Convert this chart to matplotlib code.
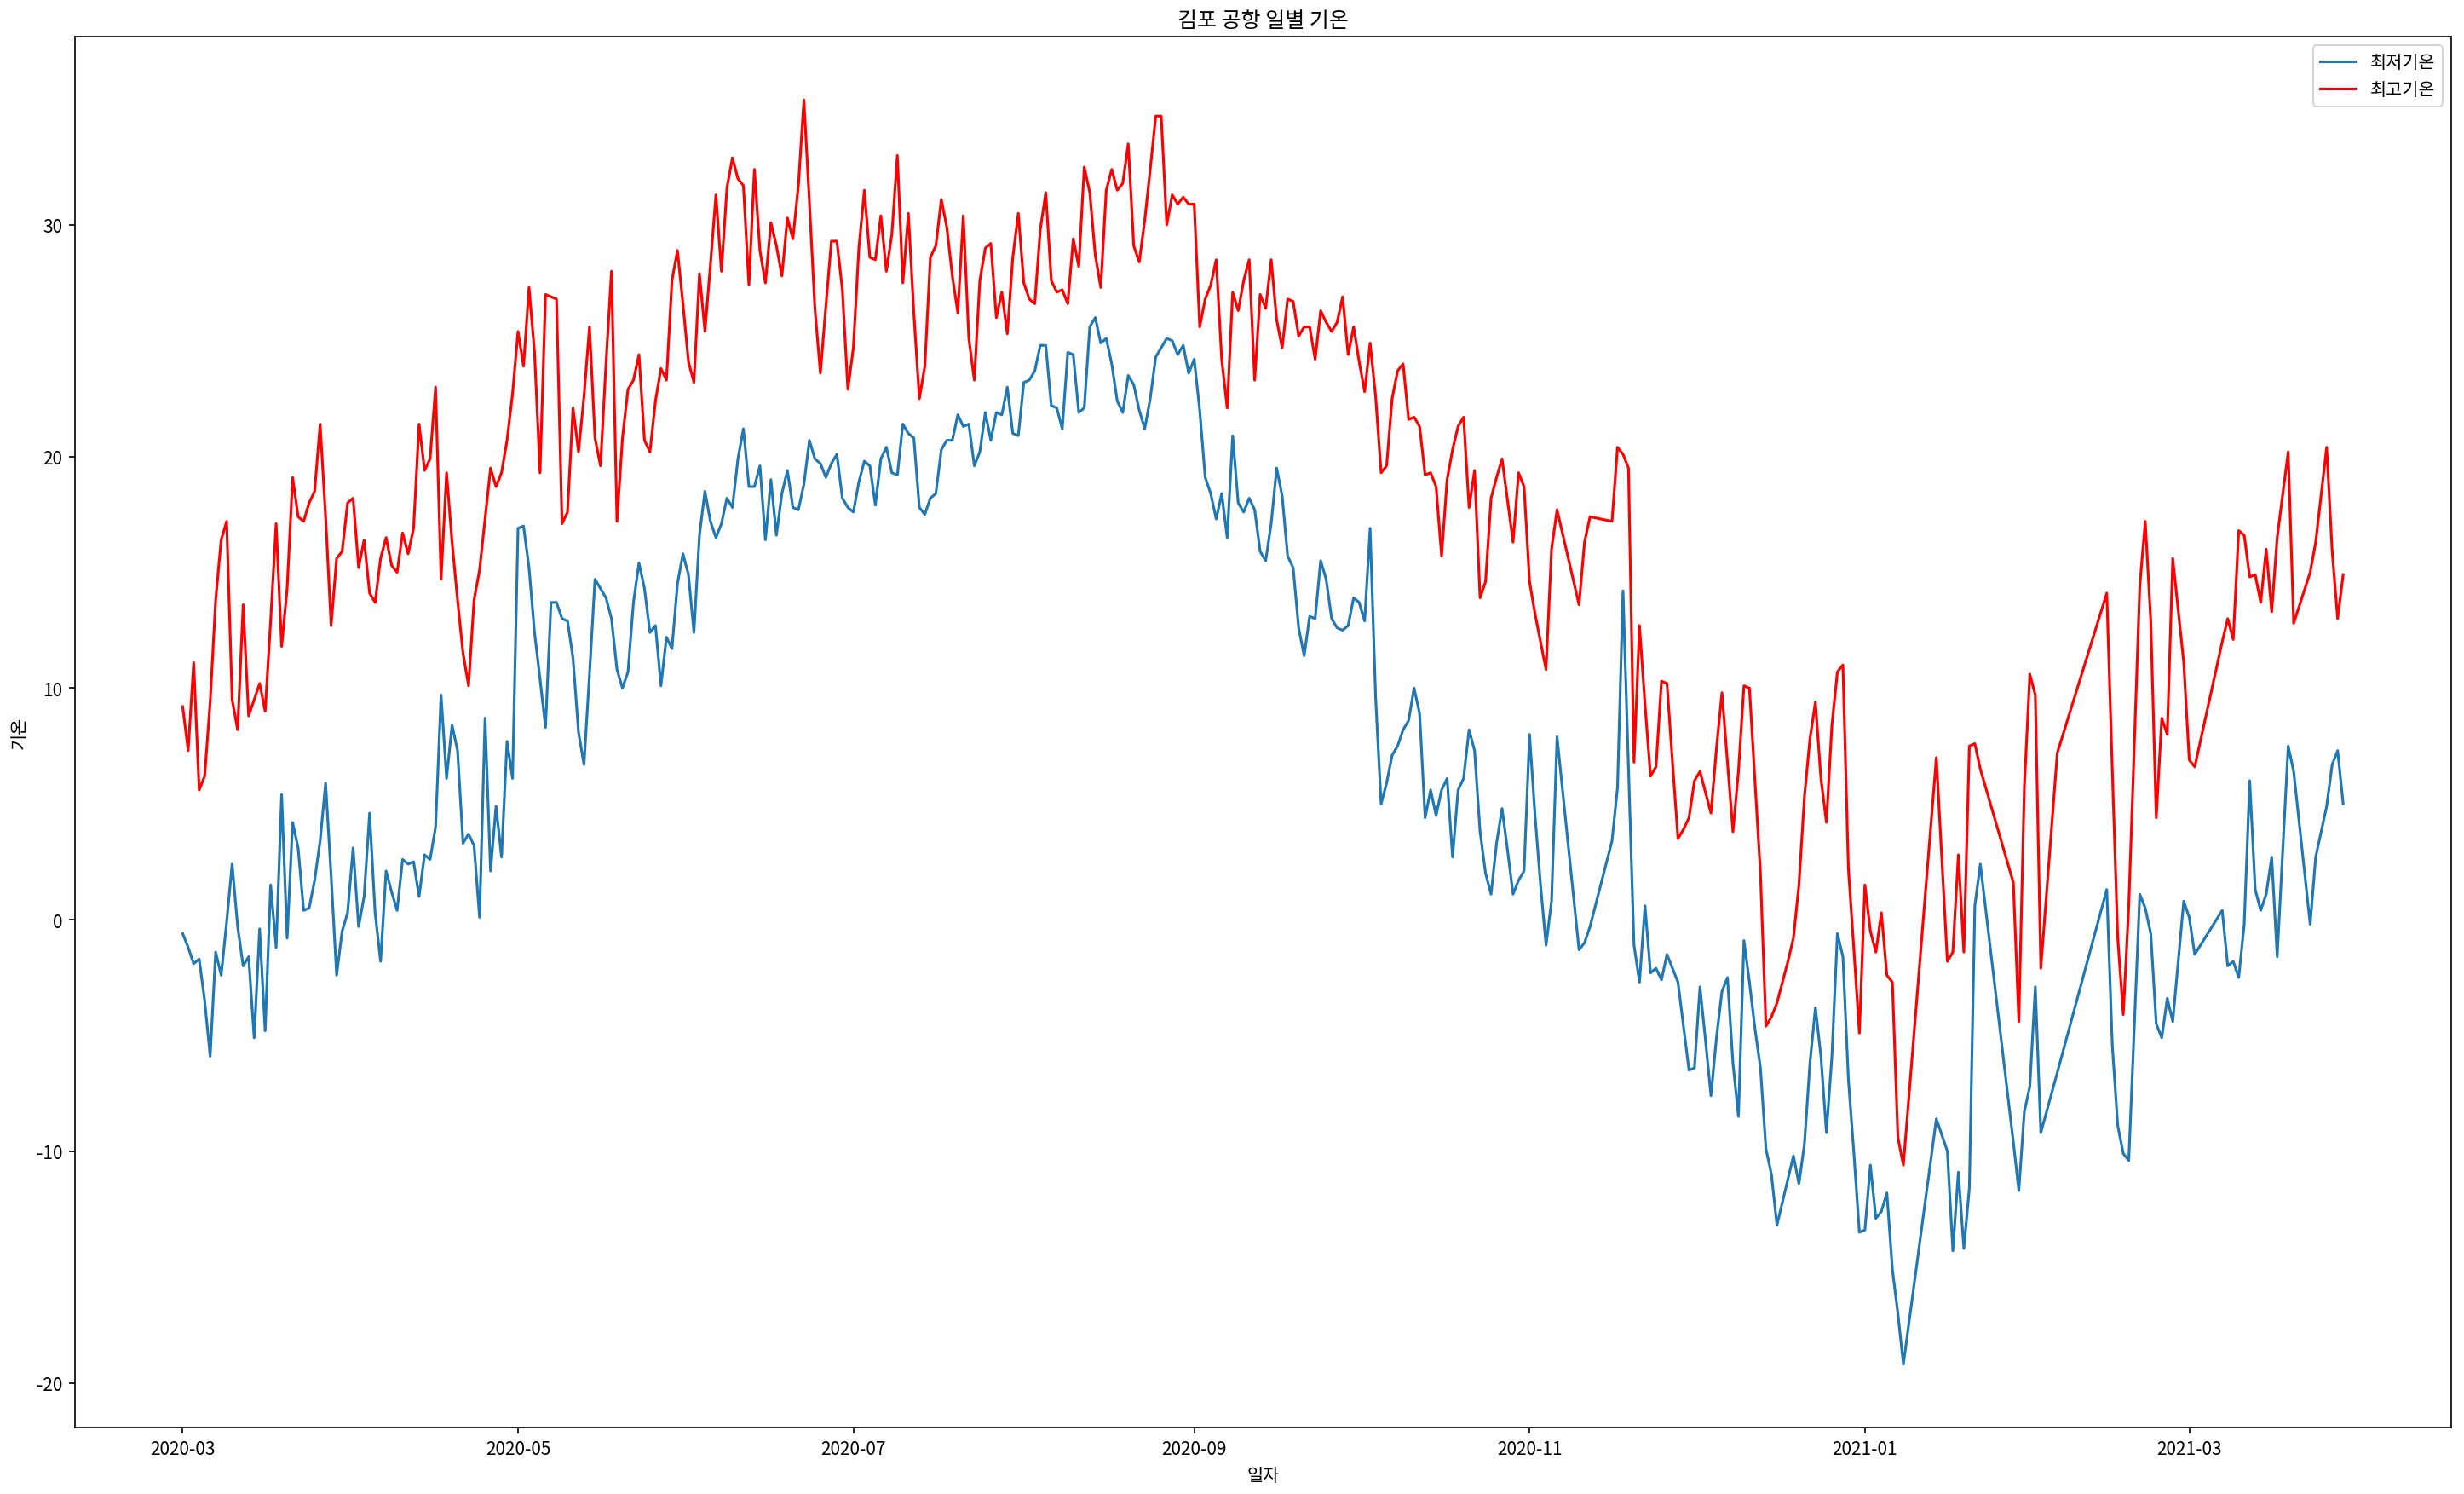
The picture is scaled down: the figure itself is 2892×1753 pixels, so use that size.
import matplotlib
matplotlib.use("Agg")
import matplotlib.pyplot as plt
import pandas as pd

# observed days (missing days show up as straight segments)
obs_periods = [
    ("2020-03-01", "2020-11-06"),
    ("2020-11-10", "2020-11-12"),
    ("2020-11-16", "2021-01-08"),
    ("2021-01-14", "2021-01-22"),
    ("2021-01-28", "2021-02-02"),
    ("2021-02-05", "2021-02-05"),
    ("2021-02-14", "2021-02-18"),
    ("2021-02-20", "2021-02-26"),
    ("2021-02-28", "2021-03-02"),
    ("2021-03-07", "2021-03-17"),
    ("2021-03-19", "2021-03-20"),
    ("2021-03-23", "2021-03-24"),
    ("2021-03-26", "2021-03-29"),
]

# 최저기온
tmin = [
    -0.6, -1.2, -1.9, -1.7, -3.5, -5.9, -1.4, -2.4, -0.1, 2.4,
    -0.3, -2.0, -1.6, -5.1, -0.4, -4.8, 1.5, -1.2, 5.4, -0.8,
    4.2, 3.1, 0.4, 0.5, 1.7, 3.4, 5.9, 1.9, -2.4, -0.5,
    0.3, 3.1, -0.3, 1.0, 4.6, 0.3, -1.8, 2.1, 1.2, 0.4,
    2.6, 2.4, 2.5, 1.0, 2.8, 2.6, 4.0, 9.7, 6.1, 8.4,
    7.3, 3.3, 3.7, 3.2, 0.1, 8.7, 2.1, 4.9, 2.7, 7.7,
    6.1, 16.9, 17.0, 15.2, 12.4, 10.4, 8.3, 13.7, 13.7, 13.0,
    12.9, 11.3, 8.1, 6.7, 10.6, 14.7, 14.3, 13.9, 13.0, 10.8,
    10.0, 10.7, 13.7, 15.4, 14.3, 12.4, 12.7, 10.1, 12.2, 11.7,
    14.5, 15.8, 14.9, 12.4, 16.6, 18.5, 17.2, 16.5, 17.1, 18.2,
    17.8, 19.9, 21.2, 18.7, 18.7, 19.6, 16.4, 19.0, 16.6, 18.4,
    19.4, 17.8, 17.7, 18.8, 20.7, 19.9, 19.7, 19.1, 19.7, 20.1,
    18.2, 17.8,
    17.6, 18.9, 19.8, 19.6, 17.9, 19.9, 20.4, 19.3, 19.2, 21.4,
    21.0, 20.8, 17.8, 17.5, 18.2, 18.4, 20.3, 20.7, 20.7, 21.8,
    21.3, 21.4, 19.6, 20.2, 21.9, 20.7, 21.9, 21.8, 23.0, 21.0,
    20.9, 23.2, 23.3, 23.7, 24.8, 24.8, 22.2, 22.1, 21.2, 24.5,
    24.4, 21.9, 22.1, 25.6, 26.0, 24.9, 25.1, 24.0, 22.4, 21.9,
    23.5, 23.1, 22.0, 21.2, 22.5, 24.3, 24.7, 25.1, 25.0, 24.4,
    24.8, 23.6, 24.2, 22.0, 19.1, 18.4, 17.3, 18.4,
    16.5, 20.9, 18.0, 17.6, 18.2, 17.7, 15.9, 15.5, 17.1, 19.5,
    18.3, 15.7, 15.2, 12.6, 11.4, 13.1, 13.0, 15.5, 14.7, 13.0,
    12.6, 12.5, 12.7, 13.9, 13.7, 12.9, 16.9, 9.6, 5.0, 5.9,
    7.1, 7.5, 8.2, 8.6, 10.0, 8.9, 4.4, 5.6, 4.5, 5.6,
    6.1, 2.7, 5.6, 6.1, 8.2, 7.3, 3.8, 2.0, 1.1, 3.3,
    4.8, 3.0, 1.1, 1.7, 2.1, 8.0, 4.5, 1.5, -1.1, 0.8,
    7.9,
    -1.3, -1.0, -0.3,
    3.4, 5.7, 14.2, 6.6, -1.1, -2.7, 0.6, -2.3, -2.1, -2.6,
    -1.5, -2.1, -2.7, -4.6, -6.5, -6.4, -2.9, -5.2, -7.6, -5.1,
    -3.1, -2.5, -6.2, -8.5, -0.9, -2.7, -4.7, -6.4, -9.9, -11.0,
    -13.2, -12.2, -11.2, -10.2, -11.4, -9.7, -6.2, -3.8, -5.9, -9.2,
    -5.9, -0.6, -1.6, -6.9, -10.1, -13.5, -13.4, -10.6, -12.9, -12.6,
    -11.8, -15.1, -17.0, -19.2,
    -8.6, -9.3, -10.0, -14.3, -10.9, -14.2, -11.6, 0.6, 2.4,
    -9.6, -11.7, -8.3, -7.2, -2.9, -9.2,
    -6.6,
    1.3, -5.4, -8.9, -10.1, -10.4,
    1.1, 0.5, -0.6, -4.5, -5.1, -3.4, -4.4,
    0.8, 0.1, -1.5,
    0.4, -2.0, -1.8, -2.5, -0.2, 6.0, 1.3, 0.4, 1.1, 2.7, -1.6,
    7.5, 6.4,
    -0.2, 2.7,
    4.9, 6.7, 7.3, 5.0,
]

# 최고기온
tmax = [
    9.2, 7.3, 11.1, 5.6, 6.2, 9.4, 13.8, 16.4, 17.2, 9.5,
    8.2, 13.6, 8.8, 9.5, 10.2, 9.0, 12.9, 17.1, 11.8, 14.3,
    19.1, 17.4, 17.2, 18.0, 18.5, 21.4, 17.4, 12.7, 15.6, 15.9,
    18.0, 18.2, 15.2, 16.4, 14.1, 13.7, 15.6, 16.5, 15.3, 15.0,
    16.7, 15.8, 16.9, 21.4, 19.4, 19.9, 23.0, 14.7, 19.3, 16.3,
    13.8, 11.5, 10.1, 13.8, 15.1, 17.3, 19.5, 18.7, 19.3, 20.7,
    22.7, 25.4, 23.9, 27.3, 24.5, 19.3, 27.0, 26.9, 26.8, 17.1,
    17.6, 22.1, 20.2, 22.6, 25.6, 20.8, 19.6, 24.0, 28.0, 17.2,
    20.8, 22.9, 23.3, 24.4, 20.7, 20.2, 22.4, 23.8, 23.3, 27.6,
    28.9, 26.6, 24.1, 23.2, 27.9, 25.4, 28.3, 31.3, 28.0, 31.6,
    32.9, 32.0, 31.7, 27.4, 32.4, 28.9, 27.5, 30.1, 29.1, 27.8,
    30.3, 29.4, 31.7, 35.4, 31.0, 26.4, 23.6, 26.5, 29.3, 29.3,
    27.2, 22.9,
    24.7, 29.0, 31.5, 28.6, 28.5, 30.4, 28.0, 29.6, 33.0, 27.5,
    30.5, 26.2, 22.5, 23.9, 28.6, 29.1, 31.1, 29.9, 27.8, 26.2,
    30.4, 25.1, 23.3, 27.6, 29.0, 29.2, 26.0, 27.1, 25.3, 28.6,
    30.5, 27.5, 26.8, 26.6, 29.8, 31.4, 27.6, 27.1, 27.2, 26.6,
    29.4, 28.2, 32.5, 31.4, 28.7, 27.3, 31.5, 32.4, 31.5, 31.8,
    33.5, 29.1, 28.4, 30.2, 32.4, 34.7, 34.7, 30.0, 31.3, 30.9,
    31.2, 30.9, 30.9, 25.6, 26.8, 27.4, 28.5, 24.2,
    22.1, 27.1, 26.3, 27.6, 28.5, 23.3, 27.0, 26.4, 28.5, 25.9,
    24.7, 26.8, 26.7, 25.2, 25.6, 25.6, 24.2, 26.3, 25.8, 25.4,
    25.8, 26.9, 24.4, 25.6, 24.1, 22.8, 24.9, 22.6, 19.3, 19.6,
    22.5, 23.7, 24.0, 21.6, 21.7, 21.3, 19.2, 19.3, 18.7, 15.7,
    19.0, 20.3, 21.3, 21.7, 17.8, 19.4, 13.9, 14.6, 18.2, 19.1,
    19.9, 18.1, 16.3, 19.3, 18.7, 14.6, 13.2, 12.0, 10.8, 16.0,
    17.7,
    13.6, 16.3, 17.4,
    17.2, 20.4, 20.1, 19.5, 6.8, 12.7, 9.3, 6.2, 6.6, 10.3,
    10.2, 6.8, 3.5, 3.9, 4.4, 6.0, 6.4, 5.5, 4.6, 7.4,
    9.8, 6.8, 3.8, 6.4, 10.1, 10.0, 6.0, 2.0, -4.6, -4.2,
    -3.6, -2.7, -1.8, -0.8, 1.5, 5.3, 7.8, 9.4, 6.1, 4.2,
    8.4, 10.7, 11.0, 2.2, -1.3, -4.9, 1.5, -0.5, -1.4, 0.3,
    -2.4, -2.7, -9.4, -10.6,
    7.0, 2.6, -1.8, -1.4, 2.8, -1.4, 7.5, 7.6, 6.5,
    1.6, -4.4, 5.7, 10.6, 9.7, -2.1,
    7.2,
    14.1, 6.5, -0.8, -4.1, 0.6,
    14.4, 17.2, 12.9, 4.4, 8.7, 8.0, 15.6,
    11.1, 6.9, 6.6,
    12.0, 13.0, 12.1, 16.8, 16.6, 14.8, 14.9, 13.7, 16.0, 13.3, 16.5,
    20.2, 12.8,
    15.0, 16.3,
    20.4, 15.9, 13.0, 14.9,
]

dates = pd.DatetimeIndex([])
for start, end in obs_periods:
    dates = dates.append(pd.date_range(start, end, freq="D"))

plt.rcParams['font.family'] = ['Noto Sans CJK KR', 'DejaVu Sans']
plt.rcParams['axes.unicode_minus'] = False

fig = plt.figure(figsize=(19.28, 11.693), dpi=150)
ax = fig.add_subplot(111)
fig.subplots_adjust(left=0.0303, right=0.9948, bottom=0.0445, top=0.9749)

ax.plot(dates, tmin, color='#1f77b4', label='최저기온')
ax.plot(dates, tmax, color='red', label='최고기온')

ax.set_title('김포 공항 일별 기온')
ax.set_xlabel('일자')
ax.set_ylabel('기온')
ax.legend(loc='upper right')

fig.savefig('out.png', dpi=150)
